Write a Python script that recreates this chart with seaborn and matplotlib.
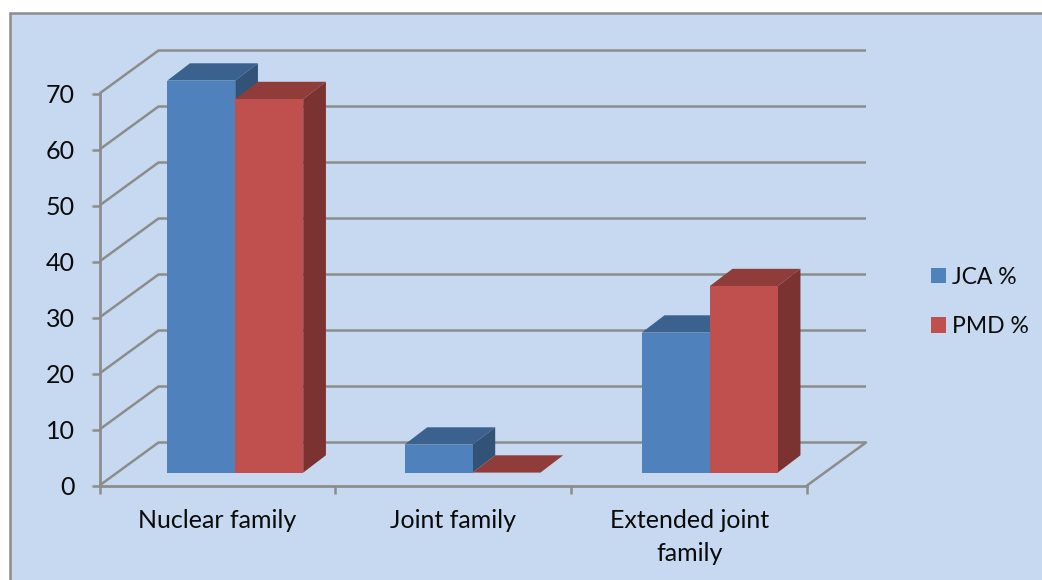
import matplotlib
matplotlib.use("Agg")
import matplotlib.pyplot as plt
import pandas as pd
import seaborn as sns
from matplotlib.colors import to_rgb
from matplotlib.patches import Polygon, Rectangle

# Chart values
categories = ["Nuclear family", "Joint family", "Extended joint\nfamily"]
jca_pct = [70, 5, 25]
pmd_pct = [66.7, 0, 33.3]
series_names = ["JCA %", "PMD %"]
value_ticks = [0, 10, 20, 30, 40, 50, 60, 70]

W, H = 1042, 580
BG = "#C6D9F0"
GREY = "#8C8C8C"
COLORS = ["#4F81BD", "#C0504D"]
TEXT = "#0A0A0A"
LW = 1.8

sns.set_theme(style="white")
plt.rcParams["font.family"] = ["Lato", "DejaVu Sans"]


def axes_rect(left, right, top, bottom):
    """Axes rectangle from pixel edges measured from the top-left corner."""
    return [left / W, 1 - bottom / H, (right - left) / W, (bottom - top) / H]


frame = pd.DataFrame({
    "family": categories * 2,
    "series": [series_names[0]] * 3 + [series_names[1]] * 3,
    "value": jca_pct + pmd_pct,
})

fig = plt.figure(figsize=(W / 100, H / 100), dpi=100, facecolor="white")
fig.add_artist(Rectangle((10 / W, -0.1), 1.1, 1.1 - 13.5 / H,
                         transform=fig.transFigure, facecolor=BG,
                         edgecolor=GREY, linewidth=LW, zorder=-1))

# Front plane: value axis, category axis and the receding walls
ax = fig.add_axes(axes_rect(99.5, 807, 93.5, 485.5))
ax.patch.set_alpha(0)
ax.set_xlim(-0.5, 2.5)
ax.set_ylim(0, 70)
sns.despine(ax=ax, top=True, right=True)
for side in ("left", "bottom"):
    ax.spines[side].set_color(GREY)
    ax.spines[side].set_linewidth(LW * 1.1)

ax.set_yticks(value_ticks)
ax.set_xticks([-0.5, 0.5, 1.5, 2.5], labels=[""] * 4)
ax.set_xticks([0, 1, 2], labels=categories, minor=True)
ax.tick_params(axis="both", which="major", length=6, width=LW, color=GREY,
               left=True, bottom=True, labelsize=18, labelcolor=TEXT, pad=12)
ax.tick_params(axis="x", which="minor", length=0, labelsize=18,
               labelcolor=TEXT, pad=17, bottom=True)
for lab in ax.get_xticklabels(minor=True):
    lab.set_verticalalignment("top")
    lab.set_linespacing(1.5)

# Wall depth expressed in axis units
wall_dx = 59 / (707.5 / 3)
wall_dy = 43 / 5.6
for v in value_ticks:
    ax.plot([-0.5, -0.5 + wall_dx, 2.5 + wall_dx],
            [v, v + wall_dy, v + wall_dy],
            color=GREY, lw=LW, clip_on=False, zorder=1,
            solid_joinstyle="miter", solid_capstyle="butt")
ax.plot([2.5, 2.5 + wall_dx], [0, wall_dy], color=GREY, lw=LW, clip_on=False,
        zorder=1)

# Bars stand on the floor, slightly behind the front plane
ax_bars = fig.add_axes(axes_rect(116.6, 828.4, 80.6, 472.6))
ax_bars.patch.set_alpha(0)
sns.barplot(data=frame, x="family", y="value", hue="series", order=categories,
            hue_order=series_names, palette=COLORS, saturation=1, width=0.573,
            gap=0, ax=ax_bars, linewidth=0)
ax_bars.set_xlim(-0.5, 2.5)
ax_bars.set_ylim(0, 70)
ax_bars.axis("off")

# Extrude each bar into a box: top and side faces from the bar's own geometry
bar_dx = 22.7 / (711.8 / 3)
bar_dy = 17.3 / 5.6
bars = list(ax_bars.patches)
for rank, bar in enumerate(bars):
    x0, w, h = bar.get_x(), bar.get_width(), bar.get_height()
    x1 = x0 + w
    rgb = to_rgb(bar.get_facecolor())
    top_c = tuple(c * 0.75 for c in rgb)
    side_c = tuple(c * 0.635 for c in rgb)
    depth = 2 + (0.5 if rank >= 3 else 0)
    ax_bars.add_patch(Polygon(
        [(x0, h), (x1, h), (x1 + bar_dx, h + bar_dy), (x0 + bar_dx, h + bar_dy)],
        facecolor=top_c, edgecolor="none", clip_on=False, zorder=depth))
    if h > 0:
        ax_bars.add_patch(Polygon(
            [(x1, 0), (x1 + bar_dx, bar_dy), (x1 + bar_dx, h + bar_dy), (x1, h)],
            facecolor=side_c, edgecolor="none", clip_on=False, zorder=depth))
    bar.set_zorder(4)
    bar.set_clip_on(False)

# Legend to the right of the plot
sns.move_legend(ax_bars, loc="upper left", title=None, frameon=False,
                bbox_to_anchor=(926 / W, 1 - 262 / H),
                bbox_transform=fig.transFigure, fontsize=16.5,
                handlelength=0.655, handleheight=0.655, handletextpad=0.26,
                labelspacing=1.25, labelcolor=TEXT, borderpad=0.2,
                borderaxespad=0)

fig.savefig("out.png", dpi=100, facecolor="white")
